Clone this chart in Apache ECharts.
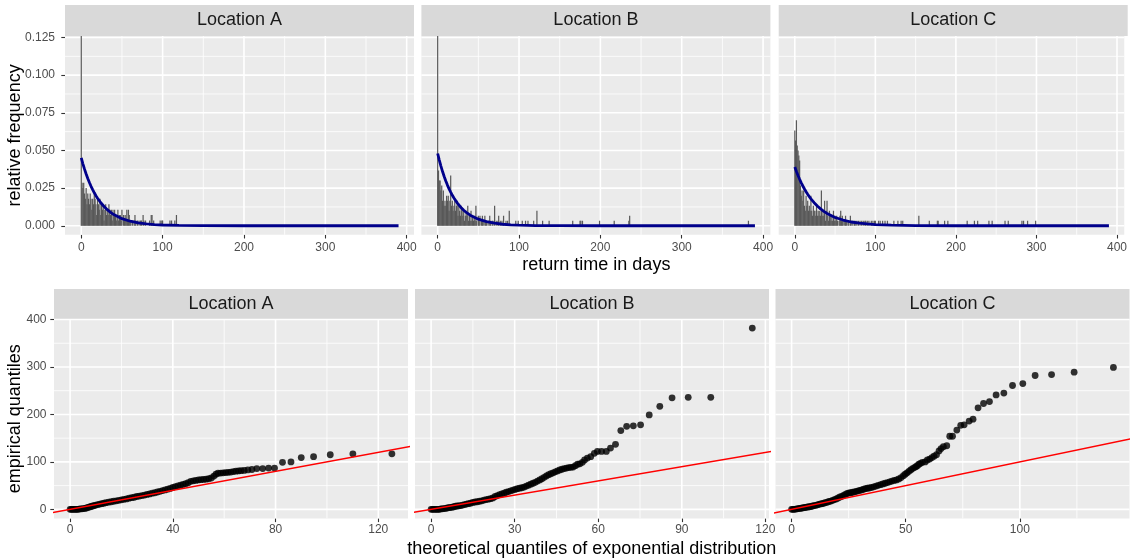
<!DOCTYPE html>
<html>
<head>
<meta charset="utf-8">
<script src="https://cdn.jsdelivr.net/npm/echarts@6/dist/echarts.min.js"></script>
<style>
  html, body { margin: 0; padding: 0; background: #ffffff; }
  #chart { width: 1130px; height: 560px; }
</style>
</head>
<body>
<div id="chart"></div>
<script>
// ---------- data ----------
const locations = ['Location A', 'Location B', 'Location C'];

// number of observed return times per location
const totalA = 280, totalB = 300, totalC = 300;

// counts of return times per day, index = days (0, 1, 2, ...)
const countsA = [40, 8,7,8,6,5,7,4,6,5,4, 6,5,3,5,4,6,5,4,2,5, 4,3,5,2,4,3,4,1,3,4,
  2,3,2,4,3,2,3,1,3,2, 3,2,1,2,3,1,2,2,1,3, 0,2,1,2,1,3,1,3,2,1,
  1,0,1,0,1,2,1,0,1,0, 1,0,1,1,0,2,1,0,1,0, 0,0,0,1,0];
const countsB = [45, 11,9,9,7,8,5,7,4,5,4, 6,5,6,3,5,10,4,5,3,4, 5,3,4,5,2,4,3,2,4,3,
  2,3,1,2,3,2,4,1,2,1, 3,1,2,1,2,1,4,1,0,2, 1,2,0,1,2,1,0,2,1,1,
  0,1,0,2,1,0,1,1,0,4, 0,1,0,1,2,0,1,0,1,0, 2,0,0,1,0];
const countsC = [19,17,21,16,15,14,13,8,6,7, 5,7,4,3,6,4,5,3,4,3, 6,3,2,4,3,3,2,4,2,3,
  2,3,2,7,2,3,2,5,1,3, 5,2,1,3,2,1,2,1,3,1, 2,1,2,1,0,1,2,3,1,2,
  1,0,1,2,1,0,1,1,0,2, 1,0,1,0,1,1,0,1,0,1, 0,1,0,1,0,1];

// long return times: [day, count]
const tailA = [[86,2],[87,2],[89,1],[97,1],[99,1],[100,1],[109,1],[111,1],[115,1],[117,2]];
const tailB = [[86,1],[88,3],[96,1],[99,1],[104,1],[108,1],[111,1],[118,1],[122,3],[129,1],[137,1],
  [166,1],[175,1],[176,1],[178,1],[199,1],[217,1],[235,1],[236,2],[382,1]];
const tailC = [[87,1],[88,1],[90,1],[92,1],[95,1],[97,1],[99,1],[100,1],[104,1],[106,1],[109,1],
  [112,1],[115,1],[123,1],[128,1],[132,1],[134,1],[154,2],[167,1],[177,1],[178,1],[186,1],[190,1],
  [214,1],[223,1],[227,1],[241,1],[245,1],[261,1],[265,1],[282,1],[284,1],[289,1],[299,1]];

// fitted exponential densities: [day, density]
const densityA = [[0,0.0450],[2,0.0411],[4,0.0376],[6,0.0344],[8,0.0314],[10,0.0287],[12,0.0262],
  [14,0.0240],[16,0.0219],[18,0.0200],[20,0.0183],[24,0.0153],[28,0.0128],[32,0.0107],[36,0.0089],
  [40,0.0074],[50,0.0047],[60,0.0030],[70,0.0019],[80,0.0012],[90,0.0008],[100,0.0005],
  [120,0.0002],[150,0.00005],[200,0],[390,0]];
const densityB = [[0,0.0480],[2,0.0436],[4,0.0396],[6,0.0360],[8,0.0327],[10,0.0297],[12,0.0270],
  [14,0.0245],[16,0.0223],[18,0.0202],[20,0.0184],[24,0.0152],[28,0.0125],[32,0.0103],[36,0.0085],
  [40,0.0070],[50,0.00435],[60,0.0027],[70,0.0017],[80,0.0010],[90,0.00064],[100,0.0004],
  [120,0.00015],[150,0.00004],[200,0],[390,0]];
const densityC = [[0,0.0390],[2,0.0361],[4,0.0334],[6,0.0309],[8,0.0285],[10,0.0264],[12,0.0244],
  [14,0.0226],[16,0.0209],[18,0.0193],[20,0.0179],[24,0.0153],[28,0.0131],[32,0.0112],[36,0.0096],
  [40,0.0082],[50,0.0055],[60,0.0038],[70,0.0025],[80,0.0017],[90,0.0012],[100,0.0008],
  [120,0.00036],[150,0.00011],[200,0.00002],[390,0]];

// QQ pairs: [theoretical quantile, empirical quantile]
const qqA = [[0,0],[0.5,0],[1,0],[1.5,0],[2,0],[2.5,0],[3,0],[3.5,0.5],[4,1],[4.6,1],[5.2,1.5],[5.8,2],
  [6.4,3],[7,4],[7.6,5],[8.2,6],[8.8,7],[9.4,8],[10,9],[10.8,10],[11.6,11],[12.4,12],[13.2,13],[14,14],
  [15,15],[16,16],[17,17],[18,18],[19,19],[20,20],[21,21],[22,22],[23,23.5],[24,24.5],[25,25.5],[26,27],
  [27,28],[28,29],[29,30],[30,31.5],[31,32.5],[32,34],[33,35],[34,36.5],[35,38],[36,39.5],[37,41],
  [38,42.5],[39,44],[40,46],[41,48],[42,49.5],[43,51],[44,52.5],[45,54],[46,56],[47,59],[48,60],[49,61],
  [50,62],[51,62.5],[52,63],[53,63.5],[54,64.5],[55,66],[56,70],[56.8,74],[57.6,76],[58.6,76.5],
  [59.6,77],[60.6,77.5],[61.6,78],[62.6,78.5],[63.6,79.5],[64.6,80.5],[65.6,81],[66.6,81.5],[67.8,82],
  [69.2,83],[70.8,84],[72.7,86],[75,86],[77.3,87],[79.6,87],[82.7,99],[86,100],[90,109],[94.8,111],
  [101.3,115],[110.1,117],[125.3,117]];
const qqB = [[0,0],[0.5,0],[1,0],[1.5,0],[2,0],[2.5,0],[3,0],[3.5,1],[4,1],[4.6,1.5],[5.2,2],[5.8,3],
  [6.4,3.5],[7,4],[7.6,4.5],[8.2,5.5],[8.8,6.5],[9.4,7],[10,7.5],[10.6,8],[11.3,9],[12,10],[12.7,11],
  [13.4,12],[14.2,13],[15,14.5],[15.8,15.5],[16.6,16],[17.4,17],[18.2,18],[19,19.5],[19.8,20.5],
  [20.6,21.5],[21.4,22.5],[22.2,24],[23,27],[23.8,29],[24.6,31],[25.4,32.5],[26.2,34],[27,36],
  [27.8,37.5],[28.6,39],[29.4,40.5],[30.2,42],[31,43.5],[31.8,44.5],[32.6,45.5],[33.4,47],[34.2,49],
  [35,51],[35.8,53],[36.6,55],[37.4,57],[38.2,59.5],[39,62],[39.8,64.5],[40.6,67.5],[41.4,70.5],
  [42.2,73],[43,75],[43.8,77],[44.6,79],[45.4,81],[46.2,83],[47,84.5],[47.8,86],[48.6,87],[49.4,88],
  [50.2,88.5],[51,89],[51.8,92],[52.6,95],[53.4,96],[54.3,99],[55.1,104],[56.1,108],[57.3,111],
  [58.6,118],[59.7,122],[61.2,122],[62.9,122],[64.4,129],[66.2,137],[68.1,166],[70.2,175],[72.6,176],
  [75.2,178],[78.3,199],[82.1,217],[86.5,235],[92.3,236],[100.4,236],[115.3,382]];
const qqC = [[0,0],[0.6,0],[1.2,0],[1.8,0.5],[2.4,1],[3,1.5],[3.6,2],[4.2,2.5],[4.8,3],[5.4,3.5],[6,4],
  [6.6,4.5],[7.2,5],[7.8,5.5],[8.5,6],[9.2,7],[9.9,8],[10.6,8.5],[11.3,9.5],[12,10.5],[12.7,11.5],
  [13.4,12],[14.1,13],[14.8,14],[15.6,15],[16.4,16.5],[17.2,17.5],[18,19],[18.8,20.5],[19.6,22],
  [20.4,24],[21.2,26],[22,27.5],[22.8,29.5],[23.6,31.5],[24.4,33.5],[25.2,34.5],[26,35],[26.8,36],
  [27.6,37],[28.4,38],[29.2,39],[30,40],[30.8,41],[31.6,42.5],[32.4,43.5],[33.2,44.5],[34,45],[35,46],
  [36,47.5],[37,49],[38,50.5],[39,52],[40,53.5],[41,55],[42,56.5],[43,58],[44,59.5],[45,61],[46,62],
  [47,64],[48,67],[49,71],[49.8,74],[50.6,77],[51.4,80],[52.2,83],[53,86],[53.8,88],[54.5,90],
  [55.1,92],[55.8,95],[56.5,97],[57.3,99],[58.5,100],[59.5,104],[60.5,106],[61.5,109],[62.4,112],
  [63.5,115],[64.6,123],[65.5,128],[66.5,132],[68,134],[69.3,154],[70.5,154],[72.4,167],[74.1,177],
  [75.6,178],[77.8,186],[79.5,190],[81.7,214],[84.1,223],[86.7,227],[89.6,241],[93,245],[96.8,261],
  [101.3,265],[106.7,282],[113.9,284],[123.8,289],[141,299]];

// reference line y = x
const refLine = [[-50,-50],[500,500]];

// axis breaks
const histXTicks = [0, 100, 200, 300, 400];
const histXMinor = [50, 150, 250, 350];
const histYTicks = [0, 0.025, 0.05, 0.075, 0.1, 0.125];
const histYMinor = [0.0125, 0.0375, 0.0625, 0.0875, 0.1125];
const qqYTicks = [0, 100, 200, 300, 400];
const qqYMinor = [50, 150, 250, 350];
const qqXTicks = [[0, 40, 80, 120], [0, 30, 60, 90, 120], [0, 50, 100]];
const qqXMinor = [[20, 60, 100], [15, 45, 75, 105], [25, 75, 125]];

// ---------- layout ----------
const FONT = '"Liberation Sans", Arial, sans-serif';
const TOP = { stripY: 5, stripH: 31, y: 36, h: 198.8, w: 349, xs: [65, 421.4, 778.7] };
const BOT = { stripY: 289, stripH: 30, y: 319, h: 199.4, w: 354, xs: [54, 415, 775.5] };
const histXRange = [-20, 409];
const histYRange = [-0.006, 0.126];
const qqYRange = [-19.1, 401.1];
const qqXRanges = [[-6.27, 131.57], [-5.78, 121.3], [-7.05, 148.05]];

const histSets = [
  { counts: countsA, tail: tailA, n: totalA, dens: densityA },
  { counts: countsB, tail: tailB, n: totalB, dens: densityB },
  { counts: countsC, tail: tailC, n: totalC, dens: densityC }
];
const qqSets = [qqA, qqB, qqC];

// ---------- renderers ----------
// white panel grid (major + minor) drawn from the axis scales
function makeGridRenderer(xMaj, xMin, yMaj, yMin) {
  return function (params, api) {
    const cs = params.coordSys;
    const xMid = api.value(0), yMid = api.value(1);
    const children = [];
    function add(vals, vertical, minor) {
      vals.forEach(function (v) {
        let shape;
        if (vertical) {
          const px = api.coord([v, yMid])[0];
          shape = { x1: px, y1: cs.y, x2: px, y2: cs.y + cs.height };
        } else {
          const py = api.coord([xMid, v])[1];
          shape = { x1: cs.x, y1: py, x2: cs.x + cs.width, y2: py };
        }
        children.push({ type: 'line', shape: shape, silent: true,
          style: { stroke: '#FFFFFF', lineWidth: minor ? 0.8 : 1.6 } });
      });
    }
    add(xMin, true, true);
    add(yMin, false, true);
    add(xMaj, true, false);
    add(yMaj, false, false);
    return { type: 'group', children: children };
  };
}

// one histogram bin of width one day
function barItem(params, api) {
  const d = api.value(0), f = api.value(1);
  const p0 = api.coord([d - 0.5, f]);
  const p1 = api.coord([d + 0.5, 0]);
  return { type: 'rect', silent: true,
    shape: { x: p0[0] - 0.2, y: p0[1], width: p1[0] - p0[0] + 0.4, height: p1[1] - p0[1] },
    style: { fill: '#595959' } };
}

// ---------- option ----------
const grids = [], xAxes = [], yAxes = [], series = [], graphics = [];

const tickStyle = { show: true, length: 3.7, lineStyle: { color: '#333333', width: 1.1 } };
const labelBase = { color: '#4D4D4D', fontSize: 12, fontFamily: FONT };
const noLine = { show: false, onZero: false };

for (let i = 0; i < 3; i++) {
  grids.push({ left: TOP.xs[i], top: TOP.y, width: TOP.w, height: TOP.h,
    show: true, backgroundColor: '#EBEBEB', borderWidth: 0 });
}
for (let i = 0; i < 3; i++) {
  grids.push({ left: BOT.xs[i], top: BOT.y, width: BOT.w, height: BOT.h,
    show: true, backgroundColor: '#EBEBEB', borderWidth: 0 });
}

// histogram panels
for (let i = 0; i < 3; i++) {
  xAxes.push({ type: 'value', gridIndex: i, min: histXRange[0], max: histXRange[1],
    position: 'bottom', axisLine: noLine, splitLine: { show: false },
    axisTick: Object.assign({ customValues: histXTicks }, tickStyle),
    axisLabel: Object.assign({ customValues: histXTicks, margin: 6.5 }, labelBase) });
  yAxes.push({ type: 'value', gridIndex: i, min: histYRange[0], max: histYRange[1],
    position: 'left', axisLine: noLine, splitLine: { show: false },
    axisTick: Object.assign({ customValues: histYTicks }, tickStyle, { show: i === 0 }),
    axisLabel: Object.assign({ customValues: histYTicks, margin: 10, show: i === 0,
      formatter: function (v) { return v.toFixed(3); } }, labelBase) });

  const set = histSets[i];
  const bars = [];
  set.counts.forEach(function (c, d) { if (c > 0) bars.push([d, c / set.n]); });
  set.tail.forEach(function (t) { bars.push([t[0], t[1] / set.n]); });

  series.push({ type: 'custom', xAxisIndex: i, yAxisIndex: i, z: 1, silent: true,
    renderItem: makeGridRenderer(histXTicks, histXMinor, histYTicks, histYMinor),
    data: [[100, 0.05]] });
  series.push({ type: 'custom', xAxisIndex: i, yAxisIndex: i, z: 2, clip: true, silent: true,
    renderItem: barItem, data: bars });
  series.push({ type: 'line', xAxisIndex: i, yAxisIndex: i, z: 3, silent: true,
    data: set.dens, showSymbol: false, symbol: 'none',
    lineStyle: { color: '#00008B', width: 2.8 } });
}

// QQ panels
for (let i = 0; i < 3; i++) {
  const gi = i + 3;
  xAxes.push({ type: 'value', gridIndex: gi, min: qqXRanges[i][0], max: qqXRanges[i][1],
    position: 'bottom', axisLine: noLine, splitLine: { show: false },
    axisTick: Object.assign({ customValues: qqXTicks[i] }, tickStyle),
    axisLabel: Object.assign({ customValues: qqXTicks[i], margin: 5.5 }, labelBase) });
  yAxes.push({ type: 'value', gridIndex: gi, min: qqYRange[0], max: qqYRange[1],
    position: 'left', axisLine: noLine, splitLine: { show: false },
    axisTick: Object.assign({ customValues: qqYTicks }, tickStyle, { show: i === 0 }),
    axisLabel: Object.assign({ customValues: qqYTicks, margin: 7.5, show: i === 0 }, labelBase) });

  series.push({ type: 'custom', xAxisIndex: gi, yAxisIndex: gi, z: 1, silent: true,
    renderItem: makeGridRenderer(qqXTicks[i], qqXMinor[i], qqYTicks, qqYMinor),
    data: [[50, 200]] });
  series.push({ type: 'scatter', xAxisIndex: gi, yAxisIndex: gi, z: 2, silent: true,
    data: qqSets[i], symbol: 'circle', symbolSize: 6.8, itemStyle: { color: '#000000' } });
  series.push({ type: 'line', xAxisIndex: gi, yAxisIndex: gi, z: 3, silent: true,
    data: refLine, showSymbol: false, symbol: 'none',
    lineStyle: { color: '#FF0000', width: 1.4 } });
}

// facet strips
function strip(x, y, w, h, label) {
  graphics.push({ type: 'rect', silent: true, shape: { x: x, y: y, width: w, height: h },
    style: { fill: '#D9D9D9' } });
  graphics.push({ type: 'text', silent: true, x: x + w / 2, y: y + h / 2,
    style: { text: label, fill: '#1A1A1A', fontSize: 18, fontFamily: FONT,
      align: 'center', verticalAlign: 'middle' } });
}
for (let i = 0; i < 3; i++) {
  strip(TOP.xs[i], TOP.stripY, TOP.w, TOP.stripH, locations[i]);
  strip(BOT.xs[i], BOT.stripY, BOT.w, BOT.stripH, locations[i]);
}

// axis titles
function title(text, x, y, rot) {
  graphics.push({ type: 'text', silent: true, x: x, y: y, rotation: rot || 0,
    style: { text: text, fill: '#000000', fontSize: 18, fontFamily: FONT,
      align: 'center', verticalAlign: 'middle' } });
}
title('relative frequency', 15, TOP.y + TOP.h / 2, Math.PI / 2);
title('return time in days', (TOP.xs[0] + TOP.xs[2] + TOP.w) / 2, 265);
title('empirical quantiles', 15, BOT.y + BOT.h / 2, Math.PI / 2);
title('theoretical quantiles of exponential distribution', (BOT.xs[0] + BOT.xs[2] + BOT.w) / 2, 549);

const chart = echarts.init(document.getElementById('chart'), null, { renderer: 'canvas' });
chart.setOption({
  animation: false,
  backgroundColor: '#FFFFFF',
  grid: grids,
  xAxis: xAxes,
  yAxis: yAxes,
  series: series,
  graphic: graphics
});
</script>
</body>
</html>
